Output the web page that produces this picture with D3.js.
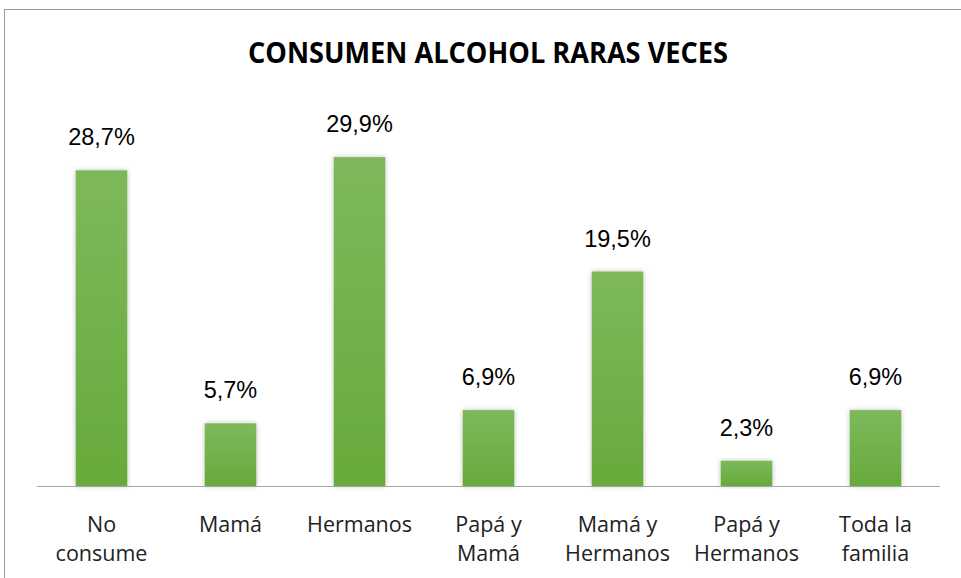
<!DOCTYPE html>
<html>
<head>
<meta charset="utf-8">
<script src="https://cdn.jsdelivr.net/npm/d3@7"></script>
<style>
  body { margin: 0; background: #fff; }
  svg { display: block; }
</style>
</head>
<body>
<svg id="id_svg"></svg>
<script>
const width = 961, height = 578
const title = "CONSUMEN ALCOHOL RARAS VECES"
const categories = [
  ["No", "consume"],
  ["Mamá"],
  ["Hermanos"],
  ["Papá y", "Mamá"],
  ["Mamá y", "Hermanos"],
  ["Papá y", "Hermanos"],
  ["Toda la", "familia"]
]
const values = [28.7, 5.7, 29.9, 6.9, 19.5, 2.3, 6.9]
const labels = ["28,7%", "5,7%", "29,9%", "6,9%", "19,5%", "2,3%", "6,9%"]

const svg = d3.select("#id_svg").attr("width", width).attr("height", height)

// gradient + soft shadow like the office chart
const defs = svg.append("defs")
const grad = defs.append("linearGradient").attr("id", "barGrad")
  .attr("x1", 0).attr("y1", 0).attr("x2", 0).attr("y2", 1)
grad.append("stop").attr("offset", "0%").attr("stop-color", "#7db95b")
grad.append("stop").attr("offset", "100%").attr("stop-color", "#67aa3b")
const shadow = defs.append("filter").attr("id", "shadow")
  .attr("x", "-30%").attr("y", "-10%").attr("width", "160%").attr("height", "120%")
shadow.append("feDropShadow").attr("dx", 0).attr("dy", 0).attr("stdDeviation", 2.5)
  .attr("flood-color", "#000").attr("flood-opacity", 0.25)

// chart frame
svg.append("rect")
  .attr("x", 4.5).attr("y", 9.5).attr("width", 970).attr("height", 600)
  .attr("fill", "none").attr("stroke", "#9a9a9a").attr("stroke-width", 1)

svg.append("text")
  .attr("x", 488).attr("y", 63)
  .attr("text-anchor", "middle")
  .attr("font-family", "'Open Sans', sans-serif")
  .attr("font-weight", "bold")
  .attr("font-size", 29)
  .attr("textLength", 480).attr("lengthAdjust", "spacingAndGlyphs")
  .attr("fill", "#000")
  .text(title)

const x = d3.scaleBand()
  .domain(d3.range(values.length))
  .range([37, 940])
  .paddingInner(0.6).paddingOuter(0.3)

const y = d3.scaleLinear().domain([0, 35]).range([486, 101])

svg.append("g")
  .selectAll("rect")
  .data(values)
  .join("rect")
  .attr("x", (d, i) => x(i))
  .attr("y", d => y(d))
  .attr("width", x.bandwidth())
  .attr("height", d => y(0) - y(d))
  .attr("fill", "url(#barGrad)")
  .attr("filter", "url(#shadow)")

svg.append("line")
  .attr("x1", 37).attr("x2", 940)
  .attr("y1", 486.5).attr("y2", 486.5)
  .attr("stroke", "#a6a6a6").attr("stroke-width", 1)

svg.append("g")
  .selectAll("text")
  .data(values)
  .join("text")
  .attr("x", (d, i) => x(i) + x.bandwidth() / 2)
  .attr("y", d => y(d) - 25)
  .attr("text-anchor", "middle")
  .attr("font-family", "'Liberation Sans', Arial, sans-serif")
  .attr("font-size", 23.5)
  .attr("fill", "#000")
  .text((d, i) => labels[i])

const cat = svg.append("g")
  .selectAll("text")
  .data(categories)
  .join("text")
  .attr("x", (d, i) => x(i) + x.bandwidth() / 2)
  .attr("y", 532)
  .attr("text-anchor", "middle")
  .attr("font-family", "'Open Sans', sans-serif")
  .attr("font-size", 21.5)
  .attr("fill", "#222")

cat.selectAll("tspan")
  .data(d => d)
  .join("tspan")
  .attr("x", function() { return this.parentNode.getAttribute("x") })
  .attr("dy", (d, j) => j === 0 ? 0 : 29)
  .text(d => d)
</script>
</body>
</html>
